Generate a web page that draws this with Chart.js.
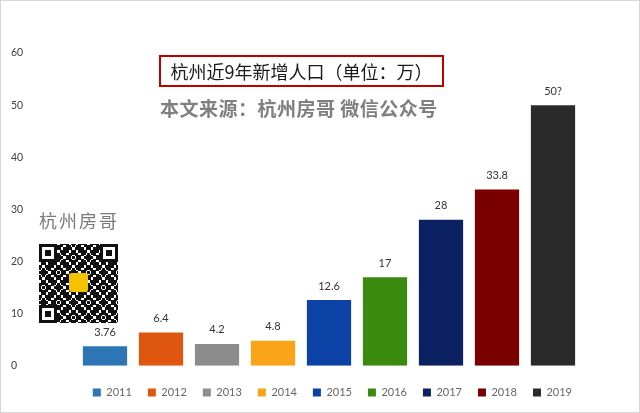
<!DOCTYPE html>
<html>
<head>
<meta charset="utf-8">
<script src="https://cdn.jsdelivr.net/npm/chart.js@4/dist/chart.umd.min.js"></script>
<style>
  html, body { margin: 0; padding: 0; background: #fff; }
  #wrap { position: relative; width: 640px; height: 413px; box-sizing: border-box; border: 1px solid #d6d6d6; }
  #wrap canvas { position: absolute; left: 0; top: 0; }
  .note { position: absolute; white-space: nowrap; font-family: "Noto Sans CJK SC", sans-serif; }
  #title { left: 158px; top: 54px; width: 281px; height: 28px; border: 2px solid #c00000; font-size: 18px; line-height: 28px; color: #1a1a1a; text-align: center; }
  #source { left: 159px; top: 93px; font-size: 19px; letter-spacing: 0.5px; font-weight: bold; color: #7f7f7f; }
  #brand { left: 38px; top: 206px; font-size: 18px; letter-spacing: 2px; color: #7a7a7a; }
  /* 二维码装饰 */
  #qr { position: absolute; left: 38px; top: 243px; width: 79px; height: 79px;
        background:
          repeating-conic-gradient(#111 0 25%, transparent 0 50%) 2px 1px / 10px 10px,
          repeating-conic-gradient(#111 0 25%, #fff 0 50%) 0 0 / 6px 6px; }
  #qr .fp { position: absolute; width: 12px; height: 12px; border: 3px solid #111; background: #fff; }
  #qr .fp::after { content: ""; position: absolute; left: 3px; top: 3px; width: 6px; height: 6px; background: #111; }
  #qr .av { position: absolute; left: 30px; top: 29px; width: 19px; height: 19px; background: #f3c300; border-radius: 3px; }
</style>
</head>
<body>
<div id="wrap">
  <canvas id="chart" width="640" height="413"></canvas>
  <div class="note" id="title">杭州近9年新增人口（单位：万）</div>
  <div class="note" id="source">本文来源：杭州房哥 微信公众号</div>
  <div class="note" id="brand">杭州房哥</div>
  <div id="qr">
    <div class="fp" style="left:0;top:0"></div>
    <div class="fp" style="right:0;top:0"></div>
    <div class="fp" style="left:0;bottom:0"></div>
    <div class="av"></div>
  </div>
</div>
<script>
// 年份
const years = ['2011', '2012', '2013', '2014', '2015', '2016', '2017', '2018', '2019'];
// 新增人口（万）
const growth = [3.76, 6.4, 4.2, 4.8, 12.6, 17, 28, 33.8, 50];
// 柱顶标签
const valueLabels = ['3.76', '6.4', '4.2', '4.8', '12.6', '17', '28', '33.8', '50?'];
const colors = ['#2e75b6', '#df560f', '#8c8c8c', '#fba41a', '#0c42a6', '#3b8a10', '#0b2161', '#7a0000', '#2a2a2a'];
const yTicks = [0, 10, 20, 30, 40, 50, 60];

// 柱顶数值
const barLabels = {
  id: 'barLabels',
  afterDatasetsDraw(chart) {
    const ctx = chart.ctx;
    const meta = chart.getDatasetMeta(0);
    ctx.save();
    ctx.font = '11px Lato, "DejaVu Sans", sans-serif';
    ctx.fillStyle = '#333';
    ctx.textAlign = 'center';
    ctx.textBaseline = 'middle';
    meta.data.forEach((bar, i) => {
      ctx.fillText(valueLabels[i], bar.x, bar.y - 14);
    });
    ctx.restore();
  }
};

new Chart(document.getElementById('chart'), {
  type: 'bar',
  data: {
    labels: years,
    datasets: [{
      label: '新增人口',
      data: growth,
      backgroundColor: colors,
      borderWidth: 0,
      categoryPercentage: 1,
      barPercentage: 0.79
    }]
  },
  options: {
    responsive: false,
    animation: false,
    layout: { padding: { left: 10, right: 53, top: 52, bottom: 6 } },
    scales: {
      x: { display: false },
      y: {
        min: yTicks[0],
        max: yTicks[yTicks.length - 1],
        afterFit: s => { s.width = 66; },
        grid: { display: false },
        border: { display: false },
        ticks: {
          stepSize: 10,
          crossAlign: 'far',
          color: '#404040',
          font: { family: 'Lato, "DejaVu Sans", sans-serif', size: 10.5 }
        }
      },
      // 右侧留白，让图例右移
      yRight: {
        position: 'right',
        afterFit: s => { s.width = 7; },
        grid: { display: false },
        border: { display: false },
        ticks: { display: false }
      }
    },
    plugins: {
      tooltip: { enabled: false },
      legend: {
        position: 'bottom',
        align: 'end',
        title: { display: true, text: ' ', font: { size: 1 }, padding: { top: 4, bottom: 0 } },
        labels: {
          boxWidth: 8,
          boxHeight: 8,
          padding: 16,
          color: '#404040',
          font: { family: 'Lato, "DejaVu Sans", sans-serif', size: 11 },
          generateLabels: () => years.map((y, i) => ({
            text: y, fillStyle: colors[i], strokeStyle: colors[i], lineWidth: 0, hidden: false, index: i
          }))
        }
      }
    }
  },
  plugins: [barLabels]
});
</script>
</body>
</html>
